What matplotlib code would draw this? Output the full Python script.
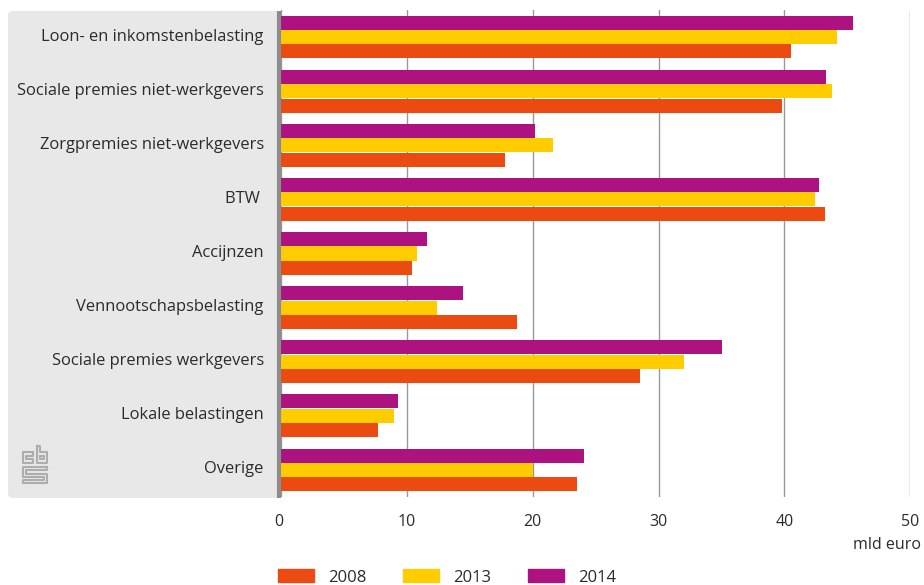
# -*- coding: utf-8 -*-
"""CBS bar chart: belastingen en premies 2008, 2013, 2014."""
import matplotlib

matplotlib.use("Agg")
import matplotlib.pyplot as plt
from matplotlib.lines import Line2D
from matplotlib.patches import FancyBboxPatch, Patch, Rectangle
from matplotlib.transforms import Affine2D, ScaledTranslation

plt.rcParams["font.family"] = ["Open Sans", "DejaVu Sans"]

categories = [
    "Loon- en inkomstenbelasting",
    "Sociale premies niet-werkgevers",
    "Zorgpremies niet-werkgevers",
    "BTW ",
    "Accijnzen",
    "Vennootschapsbelasting",
    "Sociale premies werkgevers",
    "Lokale belastingen",
    "Overige",
]
values_2014 = [45.4, 43.3, 20.2, 42.7, 11.6, 14.5, 35.0, 9.3, 24.1]
values_2013 = [44.2, 43.8, 21.6, 42.4, 10.8, 12.4, 32.0, 9.0, 20.0]
values_2008 = [40.5, 39.8, 17.8, 43.2, 10.4, 18.8, 28.5, 7.7, 23.5]
xticks = [0, 10, 20, 30, 40, 50]
unit = "mld euro"

W, H = 924, 585
TXT = "#2b2b2b"
fig = plt.figure(figsize=(W / 100, H / 100), dpi=100)

# pixel coords, y from the top
px = Affine2D().scale(1 / W, -1 / H).translate(0, 1) + fig.transFigure

# grey panel behind the labels
fig.add_artist(FancyBboxPatch((8, 11), 271, 487, boxstyle="round,pad=0,rounding_size=5",
                              transform=px, fc="#e8e8e8", ec="none", zorder=-2))
fig.add_artist(Rectangle((262, 11), 17, 487, transform=px, fc="#e8e8e8", ec="none", zorder=-2))

ax = fig.add_axes([280.5 / W, 1 - 497 / H, 630 / W, 487 / H])
ax.patch.set_alpha(0)
ax.set_xlim(0, 50)
ax.set_ylim(len(categories) - 0.5, -0.5)
ax.set_axisbelow(True)

pos = list(range(len(categories)))
h = 14 / 54
step = 14.4 / 54
ax.barh([p - step for p in pos], values_2014, height=h, color="#ae1280", zorder=3)
ax.barh(pos, values_2013, height=h, color="#ffcc00", zorder=3)
ax.barh([p + step for p in pos], values_2008, height=h, color="#eb4a10", zorder=3)

ax.set_yticks(pos)
ax.set_yticklabels(categories, fontsize=11.9, color=TXT)
ax.set_xticks(xticks)
ax.set_xticklabels([str(t) for t in xticks], fontsize=11.5, color=TXT)
ax.tick_params(axis="y", length=0, pad=12)
ax.tick_params(axis="x", length=0, pad=12)
ax.grid(axis="x", color="#999999", lw=1)
for s in ["top", "right", "bottom", "left"]:
    ax.spines[s].set_visible(False)
shift = ScaledTranslation(-1.5 / 72, 0, fig.dpi_scale_trans)
ax.get_xticklabels()[0].set_transform(ax.get_xticklabels()[0].get_transform() + shift)
up = ScaledTranslation(0, 2.5 / 100, fig.dpi_scale_trans)
for lab in ax.get_yticklabels():
    lab.set_transform(lab.get_transform() + up)

# thick axis line at zero
fig.add_artist(Line2D([279, 279], [11, 498], transform=px, color="#8c8c8c", lw=3, zorder=5,
                      solid_capstyle="butt"))

fig.text(921 / W, 1 - 545 / H, unit, ha="right", va="center", fontsize=11.5, color=TXT)

# cbs logo
logo = [
    [(33, 452), (23, 452), (23, 463), (33, 463), (33, 459), (26, 459), (26, 456), (33, 456), (33, 452)],
    [(37, 446), (37, 463), (47, 463), (47, 452), (40, 452), (40, 446), (37, 446)],
    [(40, 456), (44, 456), (44, 459), (40, 459), (40, 456)],
    [(47, 467), (23, 467), (23, 477), (44, 477), (44, 480), (23, 480), (23, 483), (47, 483),
     (47, 474), (26, 474), (26, 470), (47, 470), (47, 467)],
]
for pts in logo:
    fig.add_artist(Line2D([p[0] for p in pts], [p[1] for p in pts], transform=px,
                          color="#adadad", lw=1.5))

handles = [Patch(color="#eb4a10", label="2008"), Patch(color="#ffcc00", label="2013"),
           Patch(color="#ae1280", label="2014")]
fig.legend(handles=handles, loc="center left", bbox_to_anchor=(278 / W, 1 - 577.5 / H), ncol=3,
           frameon=False, fontsize=12, labelcolor=TXT, handlelength=2.16, handleheight=0.78,
           handletextpad=0.84, columnspacing=2.2, borderpad=0, borderaxespad=0)

fig.savefig("out.png", dpi=100)
